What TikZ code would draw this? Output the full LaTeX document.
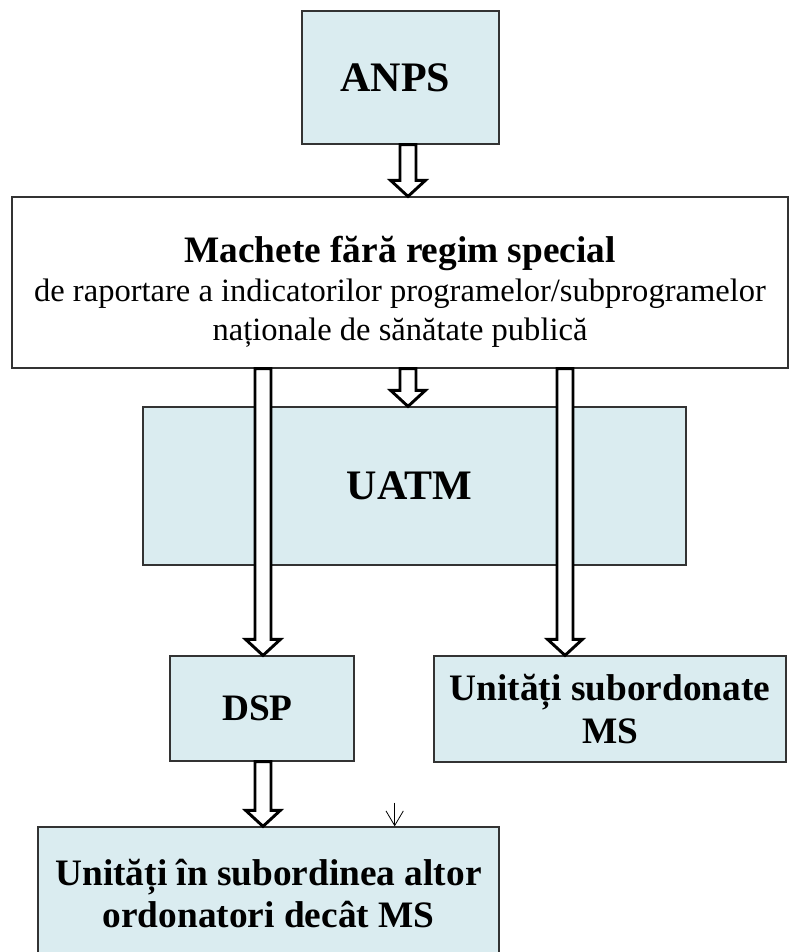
\documentclass[tikz,border=0pt]{standalone}
\usepackage{fontspec}
\setmainfont{Liberation Serif}
\usetikzlibrary{arrows.meta,calc}
\usepackage{xcolor}
\definecolor{boxcyan}{RGB}{218,236,240}

\tikzset{
    fat arrow/.style={draw=black, line width=2.2pt, fill=white, miter limit=4},
    thin arrow/.style={-{Straight Barb[length=11pt,width=13pt]}, line width=0.6pt}
}

% block arrow: x position, from node, to node
\newcommand{\fatarrow}[3]{%
    \draw[fat arrow] let \p0=(#1,0), \p1=(#2.south), \p2=(#3.north) in
        (\x0-6pt,\y1) -- (\x0-6pt,\y2+12pt) -- (\x0-13pt,\y2+12pt) -- (\x0,\y2)
        -- (\x0+13pt,\y2+12pt) -- (\x0+6pt,\y2+12pt) -- (\x0+6pt,\y1) -- cycle;
}

\begin{document}
\begin{tikzpicture}[x=1pt, y=-1pt, every node/.style={
    rectangle,
    inner sep=0pt,
    draw=black!80,
    line width=0.9pt,
    fill=boxcyan,
    align=center,
    font=\bfseries\fontsize{28}{32}\selectfont
}]
    \useasboundingbox (0,0) rectangle (591.75,714);
    \node (anps) [minimum width=147.75pt, minimum height=99.75pt,
        font=\bfseries\fontsize{31.5}{36}\selectfont] at (300.4,58.1)
    {
        ANPS
    };
    \node (machete) [fill=white, minimum width=582pt, minimum height=128.25pt,
        font=\bfseries\fontsize{28}{31}\selectfont] at (300,211.9)
    {
        \rule{0pt}{33pt}Machete fără regim special\\[-1.5pt]
        {\mdseries\fontsize{24.4}{29}\selectfont de raportare a indicatorilor programelor/subprogramelor}\\[-2pt]
        {\mdseries\fontsize{24.4}{29}\selectfont naționale de sănătate publică}
    };
    \node (uatm) [minimum width=407.25pt, minimum height=118.5pt,
        font=\bfseries\fontsize{31.5}{36}\selectfont] at (310.9,364.5)
    {
        UATM
    };
    \node (dsp) [minimum width=138pt, minimum height=78.75pt] at (196.5,531.4)
    {
        DSP
    };
    \node (unitati_subordonate_ms) [minimum width=264pt, minimum height=79.5pt] at (457.5,531.75)
    {
        Unități subordonate\\
        MS
    };
    \node (unitati_alti_ordonatori) [minimum width=345.75pt, minimum height=99.75pt] at (201.4,670.1)
    {
        Unități în subordinea altor\\
        ordonatori decât MS
    };
    \coordinate (thin_start) at (296,602);

    \fatarrow{306}{anps}{machete}
    \fatarrow{306}{machete}{uatm}
    \fatarrow{197.25}{machete}{dsp}
    \fatarrow{423.75}{machete}{unitati_subordonate_ms}
    \fatarrow{197.25}{dsp}{unitati_alti_ordonatori}
    \draw[thin arrow] (thin_start) -- (thin_start |- unitati_alti_ordonatori.north);
\end{tikzpicture}
\end{document}
